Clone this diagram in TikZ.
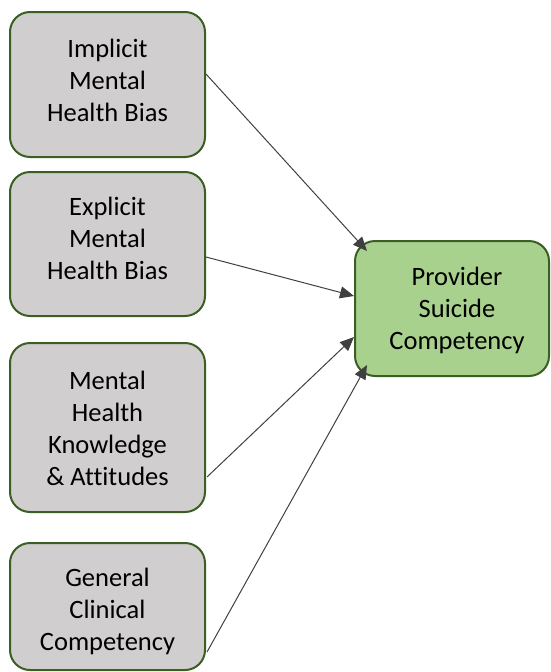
\documentclass[tikz,border=0pt]{standalone}
\usepackage{fontspec}
\setmainfont[Ligatures=CommonOff]{Carlito}
\usetikzlibrary{arrows.meta}
\definecolor{boxgray}{HTML}{D0CECE}
\definecolor{boxgreen}{HTML}{A9D18E}
\definecolor{edgegreen}{HTML}{3B5E23}
\definecolor{arrowgray}{HTML}{404040}
\tikzset{
  factor/.style={draw=edgegreen, line width=2pt, fill=boxgray, rounded corners=20pt,
    minimum width=195pt, inner sep=0pt},
  outcome/.style={factor, fill=boxgreen, minimum width=194pt},
  caption/.style={align=center, inner sep=0pt, text height=0pt, text depth=0pt,
    font=\fontsize{26.5pt}{32pt}\selectfont},
  link/.style={draw=arrowgray, line width=1pt,
    -{Triangle[length=14pt,width=12pt]}}
}
\begin{document}
\begin{tikzpicture}[x=1pt,y=-1pt]
\useasboundingbox (0,0) rectangle (550,672);
% predictor boxes
\node[factor, minimum height=145pt] (b1) at (107.5,84.5) {};
\node[factor, minimum height=144pt] (b2) at (107.5,244) {};
\node[factor, minimum height=169pt] (b3) at (107.5,427.5) {};
\node[factor, minimum height=127pt] (b4) at (107.5,606.5) {};
% outcome box
\node[outcome, minimum height=135pt] (p) at (452,308.5) {};
% box texts (placed by the baseline of their last line)
\node[caption] (t1) at (107.5,121) {Implicit\\Mental\\Health Bias};
\node[caption] (t2) at (107.5,279) {Explicit\\Mental\\Health Bias};
\node[caption] (t3) at (107.5,485) {Mental\\Health\\Knowledge\\\& Attitudes};
\node[caption] (t4) at (107.5,650) {General\\Clinical\\Competency};
\node[caption] (tp) at (457,349) {Provider\\Suicide\\Competency};
% links
\draw[link] ([yshift=10.5pt]b1.east) -- ([xshift=13pt,yshift=-11pt]p.north west);
\draw[link] ([yshift=-13pt]b2.east) -- ([yshift=12.5pt]p.west);
\draw[link] ([xshift=1pt,yshift=-49.5pt]b3.east) -- ([yshift=-28.5pt]p.west);
\draw[link] ([xshift=1pt,yshift=-45.5pt]b4.east) -- ([xshift=13pt,yshift=12pt]p.south west);
\end{tikzpicture}
\end{document}
